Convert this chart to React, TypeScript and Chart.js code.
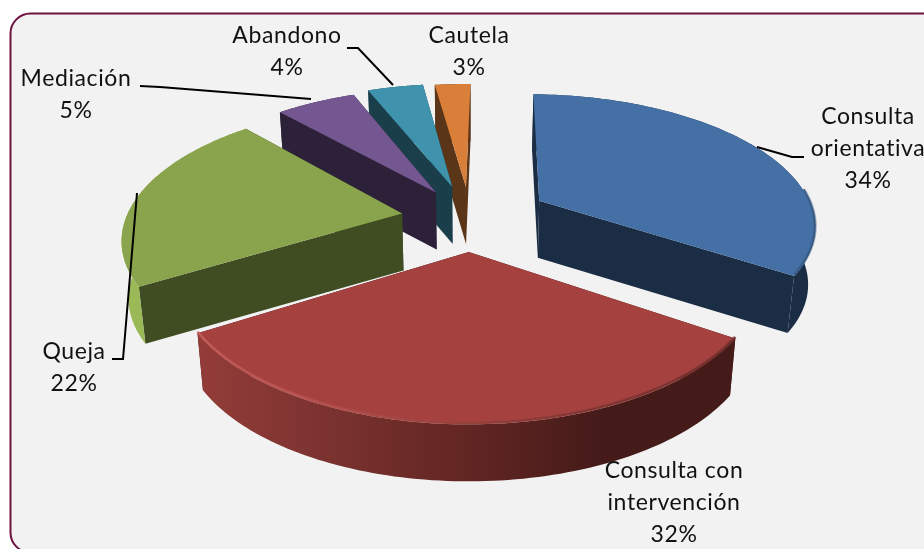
import React, { useEffect, useRef } from "react";
import { Chart, registerables } from "chart.js";

Chart.register(...registerables);

const categories = ["Consulta orientativa", "Consulta con intervención", "Queja", "Mediación", "Abandono", "Cautela"];
const shares = [34, 32, 22, 5.6, 3.9, 2.5];

// styling, per slice
const explode = [29, 25, 25, 24, 26, 25];
const topColors = ["#4470a5", "#a54240", "#89a44c", "#745690", "#3f93ad", "#d97f39"];
const cutColors = ["#1a2d45", "#451b19", "#404d22", "#2c2139", "#1a3f4b", "#5a3518"];
const rimStops: string[][] = [
  ["#1a2d45", "#1a2d45"],
  ["#933c39", "#7a322f", "#622623", "#451b19", "#451b19"],
  ["#9cbb58", "#8aab4c"],
  ["#2c2139", "#2c2139"],
  ["#1a3f4b", "#1a3f4b"],
  ["#5a3518", "#5a3518"],
];
const bevelStops: (string[] | null)[] = [
  ["#4470a5", "#4470a5", "#35577f"],
  ["#c8625d", "#b4504c", "#93403c", "#7c3532", "#6c2c29"],
  null,
  null,
  null,
  null,
];

// label layout
const labelLines = [
  { lines: ["Consulta", "orientativa", "34%"], x: 868, y: 117 },
  { lines: ["Consulta con", "intervención", "32%"], x: 674, y: 471 },
  { lines: ["Queja", "22%"], x: 74, y: 352 },
  { lines: ["Mediación", "5%"], x: 76, y: 79 },
  { lines: ["Abandono", "4%"], x: 287, y: 36 },
  { lines: ["Cautela", "3%"], x: 469, y: 36 },
];
const leaders: number[][][] = [
  [[757, 147], [792, 157], [804, 157]],
  [],
  [[112, 359], [123, 359], [137, 193]],
  [[140, 86], [160, 87], [311, 99]],
  [[347, 48], [358, 48], [393, 85]],
  [],
];

const VIEW = { cx: 470, cy: 218, A: 276, B: 130, k: 0.17, depth: 57, taper: 0.98 };

type Pt = { x: number; y: number };
const project = (u: number, v: number): Pt => {
  const w = 1 - VIEW.k * v;
  return { x: VIEW.cx + (VIEW.A * u) / w, y: VIEW.cy + (VIEW.B * v) / w };
};
const down = (p: Pt): Pt => ({
  x: VIEW.cx + (p.x - VIEW.cx) * VIEW.taper,
  y: p.y + VIEW.depth,
});

const poly = (ctx: CanvasRenderingContext2D, pts: Pt[], color: any) => {
  ctx.beginPath();
  pts.forEach((p, i) => (i ? ctx.lineTo(p.x, p.y) : ctx.moveTo(p.x, p.y)));
  ctx.closePath();
  ctx.fillStyle = color;
  ctx.fill();
};

const ramp = (ctx: CanvasRenderingContext2D, stops: string[], x0: number, x1: number) => {
  const g = ctx.createLinearGradient(x0, 0, x1 > x0 ? x1 : x0 + 1, 0);
  stops.forEach((c, i) => g.addColorStop(i / (stops.length - 1), c));
  return g;
};

const framePlugin = {
  id: "frame",
  beforeDraw(chart: any) {
    const ctx = chart.ctx as CanvasRenderingContext2D;
    ctx.save();
    ctx.beginPath();
    ctx.roundRect(10.5, 13.5, 1000, 539, 20);
    ctx.fillStyle = "#f2f2f2";
    ctx.fill();
    ctx.strokeStyle = "#6d1240";
    ctx.lineWidth = 2;
    ctx.stroke();
    ctx.restore();
  },
};

const pie3d = {
  id: "pie3d",
  beforeDatasetDraw(chart: any) {
    const ctx = chart.ctx as CanvasRenderingContext2D;
    const arcs = chart.getDatasetMeta(0).data;
    ctx.save();
    for (const i of [5, 4, 3, 2, 0, 1]) {
      const arc = arcs[i];
      const { startAngle, endAngle } = arc;
      const mid = (startAngle + endAngle) / 2;
      const e = arc.options.offset / 100;
      const ou = Math.cos(mid) * e;
      const ov = Math.sin(mid) * e;
      const apex = project(ou, ov);
      const N = 90;
      const rim: Pt[] = [];
      const angles: number[] = [];
      for (let s = 0; s <= N; s++) {
        const a = startAngle + ((endAngle - startAngle) * s) / N;
        angles.push(a);
        rim.push(project(Math.cos(a) + ou, Math.sin(a) + ov));
      }
      const first = rim[0];
      const last = rim[N];
      poly(ctx, [apex, first, down(first), down(apex)], cutColors[i]);
      poly(ctx, [apex, last, down(last), down(apex)], cutColors[i]);
      const xs = rim.map((p) => p.x);
      const x0 = Math.min(...xs);
      const x1 = Math.max(...xs);
      poly(ctx, [...rim, ...rim.map(down).reverse()], ramp(ctx, rimStops[i], x0, x1));
      poly(ctx, [apex, ...rim], topColors[i]);
      // soft bevel along the part of the edge that faces the viewer
      const stops = bevelStops[i];
      const front = rim.filter((_, s) => Math.sin(angles[s]) > -0.1);
      if (stops && front.length > 1) {
        const bevel = ramp(ctx, stops, x0, x1);
        [
          [3.5, 0.4],
          [1.5, 1],
        ].forEach(([w, alpha]) => {
          ctx.globalAlpha = alpha;
          ctx.lineWidth = w;
          ctx.strokeStyle = bevel;
          ctx.beginPath();
          front.forEach((p, s) => (s ? ctx.lineTo(p.x, p.y - 1.5) : ctx.moveTo(p.x, p.y - 1.5)));
          ctx.stroke();
        });
        ctx.globalAlpha = 1;
      }
    }
    ctx.restore();
    return false;
  },
  afterDatasetsDraw(chart: any) {
    const ctx = chart.ctx as CanvasRenderingContext2D;
    ctx.save();
    ctx.strokeStyle = "#000";
    ctx.lineWidth = 2;
    leaders.forEach((pts) => {
      if (!pts.length) return;
      ctx.beginPath();
      pts.forEach((p, i) => (i ? ctx.lineTo(p[0], p[1]) : ctx.moveTo(p[0], p[1])));
      ctx.stroke();
    });
    ctx.fillStyle = "#111";
    ctx.font = '23px Lato, "Open Sans", sans-serif';
    ctx.textAlign = "center";
    ctx.textBaseline = "middle";
    (ctx as any).letterSpacing = "0.6px";
    labelLines.forEach((l) => {
      l.lines.forEach((t, j) => ctx.fillText(t, l.x, l.y + j * 32));
    });
    ctx.restore();
  },
};

export default function App() {
  const ref = useRef<HTMLCanvasElement>(null);
  useEffect(() => {
    document.body.style.margin = "0";
    const chart = new Chart(ref.current!, {
      type: "pie",
      data: {
        labels: categories,
        datasets: [{ data: shares, backgroundColor: topColors, offset: explode, borderWidth: 0 }],
      },
      options: {
        responsive: false,
        animation: false,
        rotation: 1,
        plugins: { legend: { display: false }, tooltip: { enabled: false } },
      },
      plugins: [framePlugin, pie3d],
    } as any);
    return () => chart.destroy();
  }, []);
  return <canvas ref={ref} width={924} height={549} style={{ display: "block", width: 924, height: 549 }} />;
}
